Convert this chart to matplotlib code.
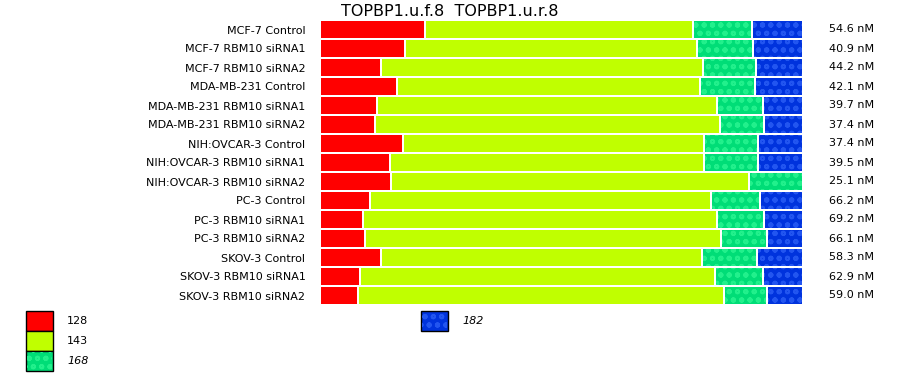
import numpy as np
import matplotlib
matplotlib.use('Agg')
import matplotlib.pyplot as plt
from matplotlib.patches import Rectangle

# data (share of each product, per sample)
samples = ['MCF-7 Control', 'MCF-7 RBM10 siRNA1', 'MCF-7 RBM10 siRNA2',
           'MDA-MB-231 Control', 'MDA-MB-231 RBM10 siRNA1', 'MDA-MB-231 RBM10 siRNA2',
           'NIH:OVCAR-3 Control', 'NIH:OVCAR-3 RBM10 siRNA1', 'NIH:OVCAR-3 RBM10 siRNA2',
           'PC-3 Control', 'PC-3 RBM10 siRNA1', 'PC-3 RBM10 siRNA2',
           'SKOV-3 Control', 'SKOV-3 RBM10 siRNA1', 'SKOV-3 RBM10 siRNA2']
conc = ['54.6 nM', '40.9 nM', '44.2 nM', '42.1 nM', '39.7 nM', '37.4 nM', '37.4 nM',
        '39.5 nM', '25.1 nM', '66.2 nM', '69.2 nM', '66.1 nM', '58.3 nM', '62.9 nM', '59.0 nM']
s128 = [21.7, 17.7, 12.7, 16.0, 11.7, 11.3, 17.1, 14.4, 14.6, 10.4, 8.8, 9.4, 12.7, 8.3, 7.9]
s143 = [55.6, 60.4, 66.5, 62.7, 70.4, 71.7, 62.5, 65.2, 74.2, 70.6, 73.3, 73.8, 66.5, 73.5, 75.8]
s168 = [12.1, 11.5, 11.0, 11.3, 9.6, 9.0, 11.0, 11.0, 11.2, 10.2, 9.8, 9.4, 11.3, 9.8, 8.8]
s182 = [10.6, 10.4, 9.8, 10.0, 8.3, 8.1, 9.4, 9.4, 0.0, 8.8, 8.1, 7.5, 9.6, 8.3, 7.5]
sizes = ['128', '143', '168', '182']

colors = ['#ff0000', '#c0ff00', '#00dd77', '#0033dd']
dots = [None, None, '#22f08c', '#2255f0']

plt.rcParams['font.family'] = 'DejaVu Sans'
plt.rcParams['hatch.linewidth'] = 1.4

fig = plt.figure(figsize=(9, 3.75), dpi=100)
ax = fig.add_axes([320 / 900, 1 - 305 / 375, 483 / 900, 285 / 375])

data = np.array([s128, s143, s168, s182]).T
data = data / data.sum(axis=1, keepdims=True) * 100
gap = 2 * 100 / 483
y = np.arange(len(samples))
h = 17 / 19

left = np.zeros(len(samples))
for k in range(4):
    w = data[:, k]
    mask = w > 0
    ax.barh(y[mask], w[mask] - gap, left=left[mask] + gap / 2, height=h,
            color=colors[k], linewidth=0, antialiased=False)
    if dots[k]:
        ax.barh(y[mask], w[mask] - gap, left=left[mask] + gap / 2, height=h,
                fill=False, edgecolor=dots[k], linewidth=0, hatch='oo')
    left += w

ax.set_xlim(0, 100)
ax.set_ylim(len(samples) - 0.5, -0.5)
ax.set_yticks(y)
ax.set_yticklabels(samples, fontsize=8)
ax.tick_params(axis='y', length=0, pad=10.5)
ax.set_xticks([])
for sp in ax.spines.values():
    sp.set_visible(False)

for i, c in enumerate(conc):
    ax.text(1.054, i, c, transform=ax.get_yaxis_transform(), fontsize=8,
            va='center', ha='left')

fig.text(0.5, 1 - 11 / 375, 'TOPBP1.u.f.8  TOPBP1.u.r.8', fontsize=11.5,
         ha='center', va='center')

# legend
leg_pos = [(26, 311), (26, 331), (26, 351), (421, 311)]
txt_x = [67, 67, 67, 462]
for k in range(4):
    x0, y0 = leg_pos[k]
    r = Rectangle((x0 / 900, 1 - (y0 + 20) / 375), 27 / 900, 20 / 375,
                  transform=fig.transFigure, facecolor=colors[k],
                  edgecolor='black', linewidth=1)
    fig.patches.append(r)
    if dots[k]:
        r2 = Rectangle(((x0 + 1) / 900, 1 - (y0 + 19) / 375), 25 / 900, 18 / 375,
                       transform=fig.transFigure, fill=False,
                       edgecolor=dots[k], linewidth=0, hatch='oo')
        fig.patches.append(r2)
    fig.text(txt_x[k] / 900, 1 - (y0 + 10) / 375, sizes[k], fontsize=8,
             va='center', ha='left', style='italic' if k >= 2 else 'normal')

fig.savefig('out.png', dpi=100)
